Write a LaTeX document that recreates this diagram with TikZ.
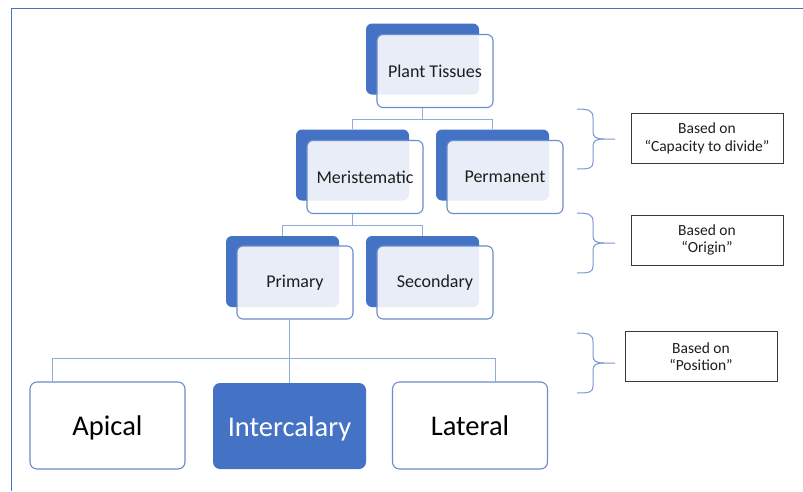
\documentclass[tikz,border=0pt]{standalone}
\usepackage{fontspec}
\setmainfont{Carlito}
\definecolor{dblue}{HTML}{4472C4}
\definecolor{fborder}{HTML}{6A8CCB}
\definecolor{conncol}{HTML}{92ABD9}
\definecolor{bracecol}{HTML}{7A97D2}
\definecolor{lblborder}{HTML}{3A3A3A}
\definecolor{txt}{HTML}{1E1E1E}
\begin{document}
\begin{tikzpicture}[x=1pt,y=-1pt,
  backbox/.style={fill=dblue,draw=none,rounded corners=6pt,minimum width=113pt,minimum height=71pt,inner sep=0pt},
  frontbox/.style={draw=fborder,line width=1.1pt,fill=white,fill opacity=0.88,text opacity=1,rounded corners=6pt,minimum width=116pt,minimum height=73pt,inner sep=0pt,text=txt,font=\fontsize{18}{21}\selectfont},
  leafbox/.style={draw=fborder,line width=1.1pt,fill=white,rounded corners=7pt,minimum width=155pt,minimum height=87pt,inner sep=0pt,text height=20pt,text depth=0pt,text=black,font=\fontsize{28.5}{32}\selectfont},
  leafdark/.style={fill=dblue,draw=none,rounded corners=7pt,minimum width=153pt,minimum height=86pt,inner sep=0pt,text height=20pt,text depth=0pt,text=white,font=\fontsize{28.5}{32}\selectfont},
  lblbox/.style={draw=lblborder,line width=1pt,fill=white,minimum width=152pt,minimum height=50pt,inner sep=0pt,align=center,text=txt,font=\fontsize{15.5}{17.5}\selectfont},
  conn/.style={draw=conncol,line width=1pt},
  bracestyle/.style={draw=bracecol,line width=1pt},
  framestyle/.style={draw=dblue,line width=1.8pt}]
\useasboundingbox (0,0) rectangle (803,491);
\fill[white] (0,0) rectangle (803,491);
% frame
\draw[framestyle] (803,8.5) -- (11.5,8.5) -- (11.5,491);

% back boxes
\node[backbox] (ptb) at (422.5,59) {};
\node[backbox] (merb) at (352.5,165) {};
\node[backbox] (permb) at (492.5,165) {};
\node[backbox] (prib) at (282.5,271.5) {};
\node[backbox] (secb) at (422.5,271.5) {};

% front boxes
\node[frontbox] (pt) at (435,71) {Plant Tissues};
\node[frontbox] (mer) at (365,177) {Meristematic};
\node[frontbox] (perm) at (505,177) {Permanent};
\node[frontbox] (pri) at (295,282.5) {Primary};
\node[frontbox] (sec) at (435,282.5) {Secondary};

% bottom boxes
\node[leafbox] (api) at (107.5,425.5) {Apical};
\node[leafdark] (int) at (289.5,426) {Intercalary};
\node[leafbox] (lat) at (470,425.5) {Lateral};

% connectors
\coordinate (j1) at (422.5,119);
\draw[conn] (ptb.south |- pt.south) -- (j1);
\draw[conn] (merb.north) -- (merb.north |- j1) -- (permb.north |- j1) -- (permb.north);
\coordinate (j2) at (352.5,225);
\draw[conn] (merb.south |- mer.south) -- (j2);
\draw[conn] (prib.north) -- (prib.north |- j2) -- (secb.north |- j2) -- (secb.north);
\coordinate (j3) at (289,358);
\coordinate (ja) at (52,382);
\coordinate (jl) at (495,382);
\draw[conn] (int.north) -- (int.north |- pri.south);
\draw[conn] (ja) -- (ja |- j3) -- (jl |- j3) -- (jl);

% label boxes
\node[lblbox] (l1) at (707,138.5) {Based on\\“Capacity to divide”};
\node[lblbox] (l2) at (707,240) {Based on\\“Origin”};
\node[lblbox] (l3) at (701,356.5) {Based on\\“Position”};

% braces
\foreach \yc in {139,243,363}{
  \draw[bracestyle] (577,\yc-30) .. controls (590,\yc-30) and (593,\yc-28) .. (593,\yc-21)
    -- (593,\yc-7) .. controls (593,\yc-2) and (596,\yc) .. (604,\yc) -- (615,\yc);
  \draw[bracestyle] (604,\yc) .. controls (596,\yc) and (593,\yc+2) .. (593,\yc+7)
    -- (593,\yc+23) .. controls (593,\yc+29) and (590,\yc+30) .. (577,\yc+30);
}
\end{tikzpicture}
\end{document}
